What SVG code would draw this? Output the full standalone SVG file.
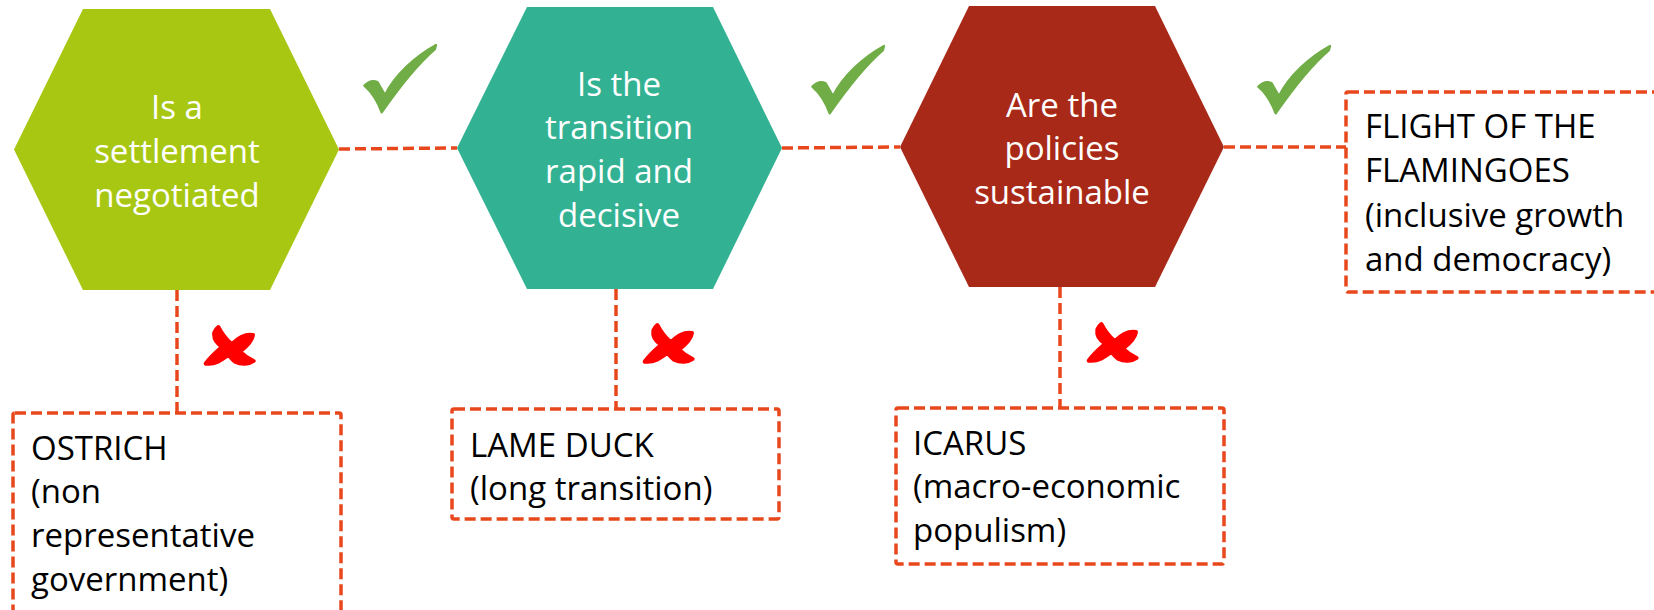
<svg xmlns="http://www.w3.org/2000/svg" width="1654" height="610" viewBox="0 0 1654 610">
<defs>
<style>
.hex-text{font-family:"Open Sans","Liberation Sans",sans-serif;font-size:33px;fill:#ffffff;text-anchor:middle}
.box-text{font-family:"Open Sans","Liberation Sans",sans-serif;font-size:33px;fill:#000000}
.dash{fill:none;stroke:#E8471C;stroke-width:3.5;stroke-dasharray:11 5}
.box{fill:#ffffff;stroke:#E8471C;stroke-width:3.5;stroke-dasharray:11 5}
.check{fill:#70AD47;stroke:#70AD47;stroke-width:7;stroke-linejoin:round}
.cross{fill:#FF0000;stroke:#FF0000;stroke-width:12;stroke-linejoin:round}
</style>
<path id="checkShape" d="M 28 152 C 40 140 55 135 68 142 L 90 180 C 120 120 180 65 243 30 L 240 42 C 190 85 130 160 80 232 C 70 205 55 175 28 152 Z"/>
<path id="crossShape" d="M 70 36 C 80 55 95 75 110 88 C 130 70 150 55 174 60 C 172 78 158 92 135 110 C 150 125 165 133 176 138 C 162 148 140 150 120 140 C 110 132 105 125 100 120 C 80 135 60 150 32 146 C 47 125 65 110 82 95 C 65 85 55 70 58 52 C 61 44 65 40 70 36 Z"/>
</defs>
<rect width="1654" height="610" fill="#ffffff"/>

<g id="connectors">
<line class="dash" x1="339" y1="149" x2="457" y2="148"/>
<line class="dash" x1="782" y1="148" x2="900" y2="147"/>
<line class="dash" x1="1224" y1="147" x2="1346" y2="147"/>
<line class="dash" x1="177" y1="290" x2="177" y2="413"/>
<line class="dash" x1="616" y1="289" x2="616" y2="409"/>
<line class="dash" x1="1060" y1="287" x2="1060" y2="408"/>
</g>

<g id="hex1">
<polygon points="83,9 270,9 339,149.5 270,290 83,290 14,149.5" fill="#A8C713"/>
<text class="hex-text" x="177" y="119">Is a</text>
<text class="hex-text" x="177" y="163">settlement</text>
<text class="hex-text" x="177" y="207">negotiated</text>
</g>

<g id="hex2">
<polygon points="527,7 713,7 782,148 713,289 527,289 457,148" fill="#33B293"/>
<text class="hex-text" x="619" y="96">Is the</text>
<text class="hex-text" x="619" y="139">transition</text>
<text class="hex-text" x="619" y="183">rapid and</text>
<text class="hex-text" x="619" y="227">decisive</text>
</g>

<g id="hex3">
<polygon points="969,6 1155,6 1224,147 1155,287 969,287 900,147" fill="#A92918"/>
<text class="hex-text" x="1062" y="117">Are the</text>
<text class="hex-text" x="1062" y="160">policies</text>
<text class="hex-text" x="1062" y="204">sustainable</text>
</g>

<g id="flamingoes">
<rect class="box" x="1346" y="92" width="340" height="200" rx="2"/>
<text class="box-text" x="1365" y="138">FLIGHT OF THE</text>
<text class="box-text" x="1365" y="182">FLAMINGOES</text>
<text class="box-text" x="1365" y="227">(inclusive growth</text>
<text class="box-text" x="1365" y="271">and democracy)</text>
</g>

<g id="ostrich">
<rect class="box" x="13" y="413" width="328" height="240" rx="2"/>
<text class="box-text" x="31" y="460">OSTRICH</text>
<text class="box-text" x="31" y="503">(non</text>
<text class="box-text" x="31" y="547">representative</text>
<text class="box-text" x="31" y="591">government)</text>
</g>

<g id="lameduck">
<rect class="box" x="452" y="409" width="327" height="110" rx="2"/>
<text class="box-text" x="470" y="457">LAME DUCK</text>
<text class="box-text" x="470" y="500">(long transition)</text>
</g>

<g id="icarus">
<rect class="box" x="896" y="408" width="328" height="156" rx="2"/>
<text class="box-text" x="913" y="455">ICARUS</text>
<text class="box-text" x="913" y="498">(macro-economic</text>
<text class="box-text" x="913" y="542">populism)</text>
</g>

<g id="checks">
<use href="#checkShape" class="check" transform="translate(355,35) scale(0.3333)"/>
<use href="#checkShape" class="check" transform="translate(803,36) scale(0.3333)"/>
<use href="#checkShape" class="check" transform="translate(1249,36) scale(0.3333)"/>
</g>

<g id="crosses">
<use href="#crossShape" class="cross" transform="translate(195,315) scale(0.3333)"/>
<use href="#crossShape" class="cross" transform="translate(634,313) scale(0.3333)"/>
<use href="#crossShape" class="cross" transform="translate(1078,312) scale(0.3333)"/>
</g>
</svg>
